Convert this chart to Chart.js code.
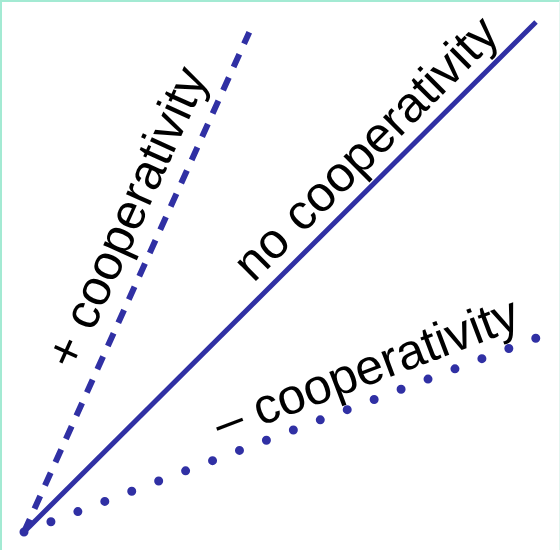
<!DOCTYPE html>
<html>
<head>
<meta charset="utf-8">
<script src="https://cdn.jsdelivr.net/npm/chart.js@4/dist/chart.umd.min.js"></script>
<style>
    html, body { margin: 0; padding: 0; background: #ffffff; }
    .frame {
        position: relative;
        width: 560px;
        height: 550px;
        box-sizing: border-box;
        border-top: 2px solid #a3ead3;
        border-left: 2px solid #a3ead3;
        border-right: 1px solid #e2f7f0;
    }
</style>
</head>
<body>
<div class="frame">
    <canvas id="coopChart"></canvas>
</div>
<script>
/* Chart data */
let lineNames = ['+ cooperativity', 'no cooperativity', '\u2013 cooperativity'];
let xValues = [0, 1];
let positiveY = [0, 0.98];
let positiveX = [0, 0.44];
let noneY = [0, 1];
let negativeY = [0, 0.38];

// where each label sits, as a fraction of its line
let labelAt = [0.6, 0.71, 0.69];

function GetPoints(xs, ys) {
    let points = [];
    let index = 0;

    while (index < xs.length) {
        points.push({ x: xs[index], y: ys[index] });
        index++;
    }

    return points;
}

let lineColor = '#3030a4';
let labelOffset = [33, 28, 29];

let labelPlugin = {
    id: 'lineLabels',
    afterDatasetsDraw: function (chart) {
        let ctx = chart.ctx;
        let xScale = chart.scales.x;
        let yScale = chart.scales.y;

        chart.data.datasets.forEach(function (ds, i) {
            let a = ds.data[0];
            let b = ds.data[ds.data.length - 1];
            let x0 = xScale.getPixelForValue(a.x);
            let y0 = yScale.getPixelForValue(a.y);
            let x1 = xScale.getPixelForValue(b.x);
            let y1 = yScale.getPixelForValue(b.y);
            let angle = Math.atan2(y1 - y0, x1 - x0);
            let t = labelAt[i];
            let px = x0 + (x1 - x0) * t + Math.sin(angle) * labelOffset[i];
            let py = y0 + (y1 - y0) * t - Math.cos(angle) * labelOffset[i];

            ctx.save();
            ctx.translate(px, py);
            ctx.rotate(angle);
            ctx.font = '50px "Liberation Sans", Arial, sans-serif';
            ctx.fillStyle = '#000000';
            ctx.textAlign = 'center';
            ctx.textBaseline = 'middle';
            ctx.fillText(lineNames[i], 0, 0);
            ctx.restore();
        });
    }
};

let ctx = document.getElementById('coopChart').getContext('2d');

let graphic = new Chart(ctx, {
    type: 'scatter',
    data: {
        datasets: [
            {
                label: lineNames[0],
                data: GetPoints(positiveX, positiveY),
                showLine: true,
                borderColor: lineColor,
                borderWidth: 6,
                borderDash: [14, 11.5],
                pointRadius: 0,
                clip: false
            },
            {
                label: lineNames[1],
                data: GetPoints(xValues, noneY),
                showLine: true,
                borderColor: lineColor,
                borderWidth: 5,
                pointRadius: 0,
                clip: false
            },
            {
                label: lineNames[2],
                data: GetPoints(xValues, negativeY),
                showLine: true,
                borderColor: lineColor,
                borderWidth: 9,
                borderDash: [0, 28.8],
                borderCapStyle: 'round',
                pointRadius: 0,
                clip: false
            }
        ]
    },
    options: {
        responsive: true,
        maintainAspectRatio: false,
        animation: false,
        layout: {
            padding: { left: 22, right: 23, top: 20, bottom: 18 }
        },
        scales: {
            x: { type: 'linear', min: 0, max: 1, display: false },
            y: { type: 'linear', min: 0, max: 1, display: false }
        },
        plugins: {
            legend: { display: false },
            tooltip: { enabled: false }
        }
    },
    plugins: [labelPlugin]
});
</script>
</body>
</html>
